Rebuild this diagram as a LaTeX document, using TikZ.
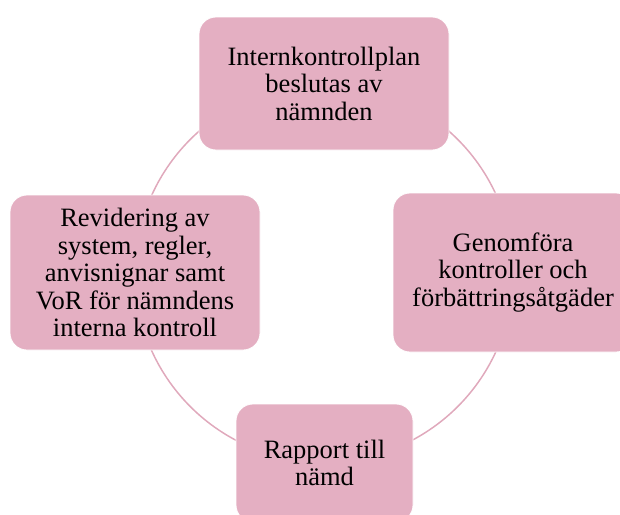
\documentclass[tikz,border=0pt]{standalone}
\usepackage{fontspec}
\setmainfont{Liberation Serif}
\definecolor{boxpink}{HTML}{E4AFC2}
\definecolor{ringpink}{HTML}{E0A9BC}
\usetikzlibrary{positioning}

\begin{document}
\begin{tikzpicture}[x=1pt, y=-1pt,
  every node/.style = {shape=rectangle, rounded corners=17pt,
    draw=white, line width=0.8pt, fill=boxpink, align=center,
    font=\fontsize{26.5}{27.5}\selectfont},
  ring/.style = {draw=ringpink, line width=1.5pt}]
  \useasboundingbox (0,0) rectangle (620,514);
  \coordinate (mid) at (324,273);
  \draw[ring] (mid) circle[radius=189pt];
  \node[minimum width=250pt, minimum height=133pt] (plan) at (324,83.5)
    {Internkontrollplan\\beslutas av\\nämnden};
  \node[minimum width=240pt, minimum height=159pt] (genomfor) at (513,272.5)
    {Genomföra\\kontroller och\\förbättringsåtgäder};
  \node[minimum width=177pt, minimum height=118pt] (rapport) at (324.5,463)
    {Rapport till\\nämd};
  \node[minimum width=250pt, minimum height=155pt] (revidering) at (135,272.5)
    {Revidering av\\system, regler,\\anvisnignar samt\\VoR för nämndens\\interna kontroll};
\end{tikzpicture}
\end{document}
